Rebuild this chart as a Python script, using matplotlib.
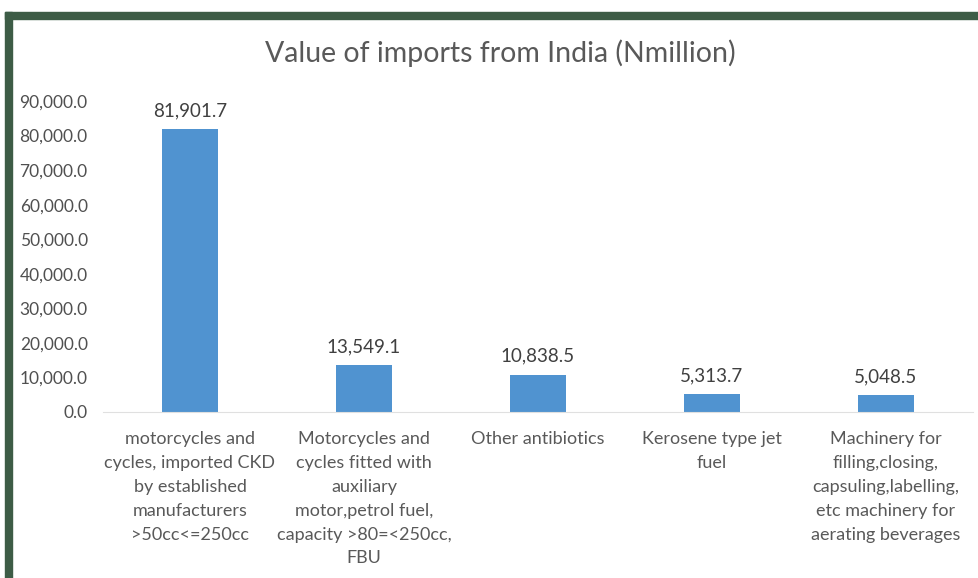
import matplotlib.pyplot as plt
from matplotlib.patches import Rectangle
from matplotlib.ticker import FuncFormatter

categories = [
    "motorcycles and\ncycles, imported CKD\nby established\nmanufacturers\n>50cc<=250cc",
    "Motorcycles and\ncycles fitted with\nauxiliary\nmotor,petrol fuel,\ncapacity >80=<250cc,\nFBU",
    "Other antibiotics",
    "Kerosene type jet\nfuel",
    "Machinery for\nfilling,closing,\ncapsuling,labelling,\netc machinery for\naerating beverages",
]
values = [81901.7, 13549.1, 10838.5, 5313.7, 5048.5]
yticks = [0, 10000, 20000, 30000, 40000, 50000, 60000, 70000, 80000, 90000]

plt.rcParams['font.family'] = ['Lato', 'DejaVu Sans']

fig = plt.figure(figsize=(9.79, 5.78), dpi=100)
W, H = 979, 578

# dark green frame on top and left
green = '#3d5c46'
fig.patches.append(Rectangle((5 / W, 0), 7 / W, (578 - 12) / H, transform=fig.transFigure,
                             color=green, zorder=0))
fig.patches.append(Rectangle((5 / W, (578 - 19) / H), 1 - 5 / W, 7 / H, transform=fig.transFigure,
                             color=green, zorder=0))

ax = fig.add_axes([103 / W, (578 - 412) / H, 870 / W, 311 / H])
x = range(len(categories))
bars = ax.bar(x, values, width=0.32, color='#5093d0')

for b, v in zip(bars, values):
    ax.text(b.get_x() + b.get_width() / 2, v + 2800, f'{v:,.1f}', ha='center', va='bottom',
            fontsize=13.5, color='#404040')

ax.set_ylim(0, 90000)
ax.set_xlim(-0.5, 4.5)
ax.set_yticks(yticks)
ax.yaxis.set_major_formatter(FuncFormatter(lambda v, p: f'{v:,.1f}'))
ax.set_xticks(list(x))
ax.set_xticklabels(categories, fontsize=13, color='#595959', linespacing=1.6)
ax.tick_params(axis='y', labelsize=12.5, labelcolor='#505050', length=0, pad=11)
ax.tick_params(axis='x', length=0, pad=14)
for s in ['top', 'right', 'left']:
    ax.spines[s].set_visible(False)
ax.spines['bottom'].set_color('#e0e0e0')

fig.text(500 / W, 1 - 53 / H, 'Value of imports from India (Nmillion)', ha='center', va='center',
         fontsize=20.5, color='#595959')

plt.savefig('out.png', dpi=100)
